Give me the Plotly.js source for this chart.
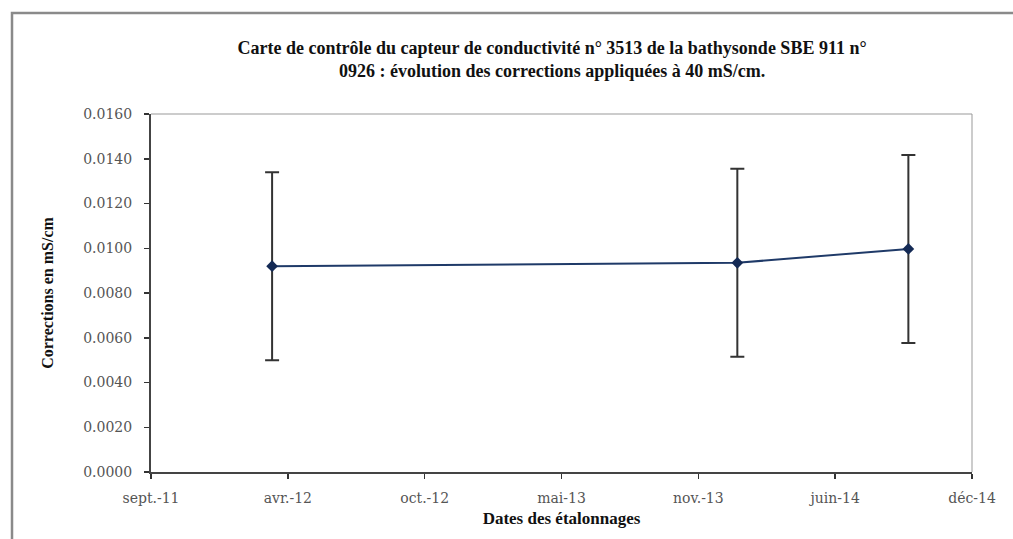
<!DOCTYPE html>
<html>
<head>
<meta charset="utf-8">
<script src="https://cdn.plot.ly/plotly-3.0.1.min.js"></script>
<style>
html,body{margin:0;padding:0;background:#fff;}
#chart{width:1013px;height:539px;}
</style>
</head>
<body>
<div id="chart"></div>
<script>
// Data
var dates = ['2012-03-09', '2014-01-18', '2014-09-25'];
var corrections = [0.0092, 0.00935, 0.00997];
var errors = [0.0042, 0.0042, 0.0042];
var xTickVals = ['2011-09-14', '2012-04-01', '2012-10-18', '2013-05-06', '2013-11-22', '2014-06-10', '2014-12-27'];
var xTickText = ['sept.-11', 'avr.-12', 'oct.-12', 'mai-13', 'nov.-13', 'juin-14', 'déc-14'];
var yTickVals = [0, 0.002, 0.004, 0.006, 0.008, 0.010, 0.012, 0.014, 0.016];
var yTickText = ['0.0000', '0.0020', '0.0040', '0.0060', '0.0080', '0.0100', '0.0120', '0.0140', '0.0160'];

var serif = 'Liberation Serif, Times New Roman, serif';
var tickSerif = 'DejaVu Serif, serif';

var trace = {
  x: dates,
  y: corrections,
  type: 'scatter',
  mode: 'lines+markers',
  line: {color: '#1f3a68', width: 2},
  marker: {symbol: 'diamond', size: 9, color: '#142a55'},
  error_y: {type: 'data', array: errors, visible: true, color: '#333333', thickness: 2, width: 7},
  showlegend: false,
  hoverinfo: 'x+y'
};

var layout = {
  width: 1013,
  height: 539,
  paper_bgcolor: '#ffffff',
  plot_bgcolor: '#ffffff',
  margin: {l: 151, r: 41, t: 114, b: 67},
  title: {
    text: '<b>Carte de contrôle du capteur de conductivité n° 3513 de la bathysonde SBE 911 n°<br>0926 : évolution des corrections appliquées à 40 mS/cm.</b>',
    font: {family: serif, size: 18, color: '#111'},
    x: 0.545, xanchor: 'center',
    y: 0.9, yanchor: 'middle'
  },
  xaxis: {
    type: 'date',
    range: [xTickVals[0], xTickVals[xTickVals.length - 1]],
    tickmode: 'array',
    tickvals: xTickVals,
    ticktext: xTickText,
    ticks: 'outside', ticklen: 5, tickwidth: 1.5, tickcolor: '#333',
    ticklabelstandoff: 7,
    showline: true, linecolor: '#444', linewidth: 2,
    showgrid: false, zeroline: false,
    tickfont: {family: tickSerif, size: 14, color: '#555'},
    title: {text: '<b>Dates des étalonnages</b>', font: {family: serif, size: 17, color: '#111'}, standoff: 7},
    mirror: false
  },
  yaxis: {
    range: [0, 0.016],
    tickmode: 'array',
    tickvals: yTickVals,
    ticktext: yTickText,
    ticks: 'outside', ticklen: 5, tickwidth: 1.5, tickcolor: '#333',
    ticklabelstandoff: 9,
    showline: true, linecolor: '#444', linewidth: 2,
    showgrid: false, zeroline: false,
    tickfont: {family: tickSerif, size: 14, color: '#555'},
    title: {text: '<b>Corrections en mS/cm</b>', font: {family: serif, size: 16, color: '#111'}, standoff: 26}
  },
  shapes: [
    // plot area border (top & right)
    {type: 'line', xref: 'paper', yref: 'paper', x0: 0, x1: 1, y0: 1, y1: 1, line: {color: '#999', width: 1}},
    {type: 'line', xref: 'paper', yref: 'paper', x0: 1, x1: 1, y0: 0, y1: 1, line: {color: '#999', width: 1}},
    // outer chart frame
    {type: 'rect', xref: 'paper', yref: 'paper', x0: -0.1693, x1: 1.08, y0: -0.22, y1: 1.282, line: {color: '#8a8a8a', width: 2.5}, layer: 'below'}
  ]
};

Plotly.newPlot('chart', [trace], layout, {displayModeBar: false, staticPlot: true});
</script>
</body>
</html>
